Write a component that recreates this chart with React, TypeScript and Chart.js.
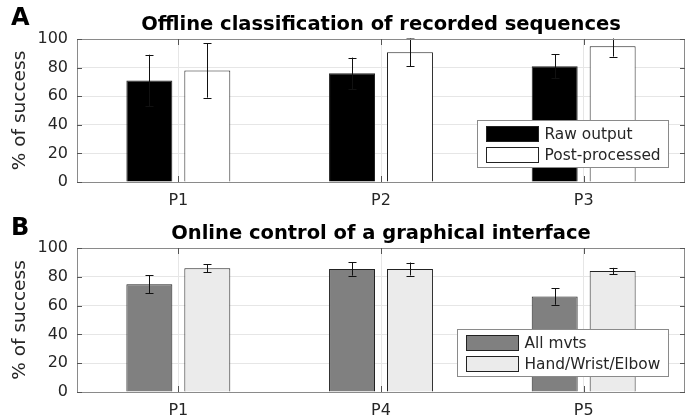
import React, { useEffect, useRef } from "react";
import { Chart, registerables } from "chart.js";

Chart.register(...registerables);

// ---------- data ----------
const topCategories = ["P1", "P2", "P3"];
const topRawLabel = "Raw output";
const topRaw = [71, 76, 81];
const topRawErr = [18, 11, 8.4];
const topPostLabel = "Post-processed";
const topPost = [78, 90.7, 95];
const topPostErr = [19, 9.8, 7.3];

const bottomCategories = ["P1", "P4", "P5"];
const allMvtsLabel = "All mvts";
const allMvts = [74.8, 85.4, 66.4];
const allMvtsErr = [6.3, 4.6, 5.8];
const hweLabel = "Hand/Wrist/Elbow";
const hwe = [85.9, 85.4, 84];
const hweErr = [2.8, 4.5, 2.2];

const yMin = 0;
const yMax = 100;
const yStep = 20;

const topTitle = "Offline classification of recorded sequences";
const bottomTitle = "Online control of a graphical interface";
const yLabel = "% of success";

const FONT = "'DejaVu Sans', sans-serif";
const TEXT = "#262626";

type Series = { label: string; data: number[]; err: number[]; fill: string };

function makePlugin(letter: string, title: string, series: Series[]) {
  return {
    id: "matlabStyle",
    afterDatasetsDraw(chart: any) {
      const ctx = chart.ctx;
      const y = chart.scales.y;
      const a = chart.chartArea;
      ctx.save();
      ctx.beginPath();
      ctx.rect(a.left, a.top - 0.5, a.right - a.left, a.bottom - a.top + 1);
      ctx.clip();
      ctx.strokeStyle = "#111";
      ctx.lineWidth = 1;
      series.forEach((s, di) => {
        const meta = chart.getDatasetMeta(di);
        meta.data.forEach((el: any, i: number) => {
          const v = s.data[i];
          const e = s.err[i];
          const x = Math.round(el.x) + 0.5;
          const yt = y.getPixelForValue(v + e);
          const yb = y.getPixelForValue(v - e);
          ctx.beginPath();
          ctx.moveTo(x, yt);
          ctx.lineTo(x, yb);
          ctx.moveTo(x - 4, Math.round(yt) + 0.5);
          ctx.lineTo(x + 4, Math.round(yt) + 0.5);
          ctx.moveTo(x - 4, Math.round(yb) + 0.5);
          ctx.lineTo(x + 4, Math.round(yb) + 0.5);
          ctx.stroke();
        });
      });
      ctx.restore();
    },
    afterDraw(chart: any) {
      const ctx = chart.ctx;
      const a = chart.chartArea;
      const xs = chart.scales.x;
      const ys = chart.scales.y;
      ctx.save();
      // frame
      ctx.strokeStyle = "#8a8a8a";
      ctx.lineWidth = 1;
      ctx.strokeRect(Math.round(a.left) + 0.5, Math.round(a.top) + 0.5, Math.round(a.right - a.left) - 1, Math.round(a.bottom - a.top));
      // ticks
      ctx.strokeStyle = "#555";
      ctx.beginPath();
      ys.ticks.forEach((t: any) => {
        const py = Math.round(ys.getPixelForValue(t.value)) + 0.5;
        ctx.moveTo(a.left, py);
        ctx.lineTo(a.left + 5, py);
        ctx.moveTo(a.right, py);
        ctx.lineTo(a.right - 5, py);
      });
      xs.ticks.forEach((t: any, i: number) => {
        const px = Math.round(xs.getPixelForValue(i)) + 0.5;
        ctx.moveTo(px, a.bottom);
        ctx.lineTo(px, a.bottom - 6);
        ctx.moveTo(px, a.top);
        ctx.lineTo(px, a.top + 6);
      });
      ctx.stroke();

      // title
      ctx.fillStyle = "#000";
      ctx.font = `bold 19.5px ${FONT}`;
      ctx.textAlign = "center";
      ctx.textBaseline = "alphabetic";
      ctx.fillText(title, (a.left + a.right) / 2, a.top - 9);

      // panel letter
      ctx.font = `bold 24px ${FONT}`;
      ctx.textAlign = "left";
      ctx.fillText(letter, 11, 25);

      // y label
      ctx.save();
      ctx.translate(20, (a.top + a.bottom) / 2);
      ctx.rotate(-Math.PI / 2);
      ctx.fillStyle = TEXT;
      ctx.font = `18.5px ${FONT}`;
      ctx.textAlign = "center";
      ctx.textBaseline = "middle";
      ctx.fillText(yLabel, 0, 0);
      ctx.restore();

      // legend
      ctx.font = `15.4px ${FONT}`;
      const tw = Math.max(...series.map((s) => ctx.measureText(s.label).width));
      const bw = Math.round(68 + tw + 7);
      const bh = 47;
      const bx = Math.round(a.right - 17 - bw) + 0.5;
      const by = Math.round(a.top + 81) + 0.5;
      ctx.fillStyle = "#fff";
      ctx.fillRect(bx, by, bw, bh);
      ctx.strokeStyle = "#8a8a8a";
      ctx.strokeRect(bx, by, bw, bh);
      series.forEach((s, i) => {
        const sy = by + 6 + i * 21;
        ctx.fillStyle = s.fill;
        ctx.fillRect(bx + 9, sy, 52, 15);
        ctx.strokeStyle = "#222";
        ctx.strokeRect(bx + 9, sy, 52, 15);
        ctx.fillStyle = TEXT;
        ctx.textAlign = "left";
        ctx.textBaseline = "middle";
        ctx.fillText(s.label, bx + 67, sy + 8);
      });
      ctx.restore();
    },
  };
}

function Panel({ letter, title, labels, series, top, height, padTop }: any) {
  const ref = useRef<HTMLCanvasElement>(null);
  useEffect(() => {
    const canvas = ref.current!;
    const chart = new Chart(canvas, {
      type: "bar",
      data: {
        labels,
        datasets: series.map((s: Series) => ({
          label: s.label,
          data: s.data,
          backgroundColor: s.fill,
          borderColor: "#222",
          borderWidth: 1,
          borderSkipped: "bottom",
          categoryPercentage: 0.572,
          barPercentage: 0.793,
        })),
      },
      options: {
        responsive: false,
        animation: false,
        devicePixelRatio: 1,
        layout: { padding: { top: padTop, right: 14, left: 0, bottom: 0 } },
        plugins: { legend: { display: false }, title: { display: false }, tooltip: { enabled: false } },
        scales: {
          x: {
            grid: { display: true, offset: false, color: "#e6e6e6", drawTicks: false },
            border: { display: false },
            ticks: { color: TEXT, font: { family: FONT, size: 16 }, padding: 9 },
            afterFit: (s: any) => {
              s.height = height - 182;
            },
          },
          y: {
            min: yMin,
            max: yMax,
            grid: { color: "#e6e6e6", drawTicks: false },
            border: { display: false },
            ticks: { stepSize: yStep, color: TEXT, font: { family: FONT, size: 16 }, padding: 9 },
            afterFit: (s: any) => {
              s.width = 77;
            },
          },
        },
      },
      plugins: [makePlugin(letter, title, series)],
    });
    return () => chart.destroy();
  }, []);
  return (
    <canvas
      ref={ref}
      width={699}
      height={height}
      style={{ position: "absolute", left: 0, top, width: 699, height }}
    />
  );
}

export default function App() {
  const topSeries: Series[] = [
    { label: topRawLabel, data: topRaw, err: topRawErr, fill: "#000000" },
    { label: topPostLabel, data: topPost, err: topPostErr, fill: "#ffffff" },
  ];
  const bottomSeries: Series[] = [
    { label: allMvtsLabel, data: allMvts, err: allMvtsErr, fill: "#808080" },
    { label: hweLabel, data: hwe, err: hweErr, fill: "#ebebeb" },
  ];
  return (
    <div style={{ position: "absolute", left: 0, top: 0, width: 699, height: 419, background: "#fff" }}>
      <Panel letter="A" title={topTitle} labels={topCategories} series={topSeries} top={0} height={210} padTop={39} />
      <Panel letter="B" title={bottomTitle} labels={bottomCategories} series={bottomSeries} top={210} height={209} padTop={38} />
    </div>
  );
}
